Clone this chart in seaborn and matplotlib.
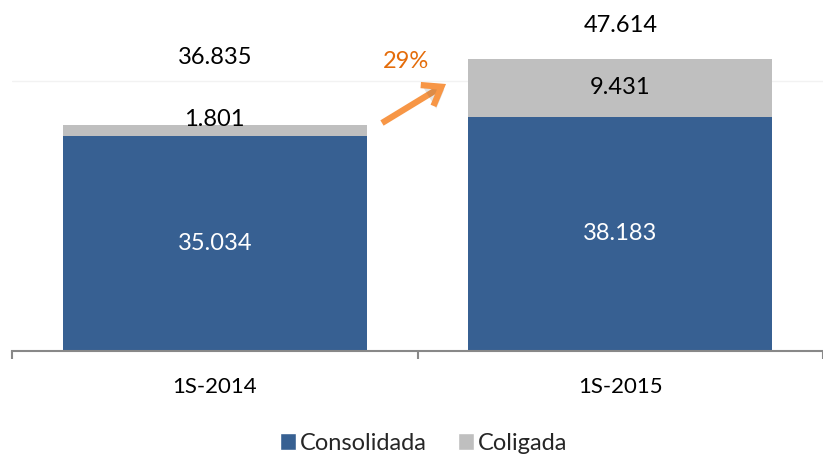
import matplotlib
matplotlib.use("Agg")
import matplotlib.pyplot as plt
import matplotlib.patheffects as pe
from matplotlib.patches import Patch
import seaborn as sns
import pandas as pd

# ---- data ----
categories = ["1S-2014", "1S-2015"]
consolidada = [35034, 38183]
coligada = [1801, 9431]
series_names = ["Consolidada", "Coligada"]
growth_label = "29%"

totals = [a + b for a, b in zip(consolidada, coligada)]

def fmt(v):
    return f"{v:,}".replace(",", ".")

BLUE = "#376092"
GRAY = "#BFBFBF"
ORANGE_TXT = "#E46C0A"
ORANGE_ARR = "#F79646"

sns.set_style("white")
plt.rcParams["font.family"] = ["Lato", "DejaVu Sans"]

W, H = 823, 454
fig = plt.figure(figsize=(W / 100, H / 100), dpi=100)
ax = fig.add_axes([12 / W, 1 - 350.7 / H, 1 - 12 / W, 350.7 / H])

df = pd.DataFrame({"cat": categories, "total": totals, "cons": consolidada, "col": coligada})

sns.barplot(data=df, x="cat", y="total", color=GRAY, width=0.75, saturation=1,
            ax=ax, zorder=2, linewidth=0, edgecolor="none")
sns.barplot(data=df, x="cat", y="cons", color=BLUE, width=0.75, saturation=1,
            ax=ax, zorder=3, linewidth=0, edgecolor="none")

ax.set_xlim(-0.5, 1.5)
ax.set_ylim(0, 57250)
ax.set_xlabel("")
ax.set_ylabel("")
ax.set_yticks([])

# faint top gridline
ax.axhline(44000, color="#F2F2F2", lw=1, zorder=1)

for s in ["top", "left", "right"]:
    ax.spines[s].set_visible(False)
ax.spines["bottom"].set_color("#888888")
ax.spines["bottom"].set_linewidth(1.5)
ax.spines["bottom"].set_zorder(5)

ax.set_xticks(range(len(categories)))
ax.set_xticklabels(categories, fontsize=16, color="#000000")
ax.tick_params(axis="x", which="major", length=0, pad=19)
ax.set_xticks([-0.5, 0.5, 1.5], minor=True)
ax.tick_params(axis="x", which="minor", bottom=True, length=6, width=1.5,
               color="#888888", direction="out")

# labels
total_offsets = [68, 34]  # px above bar top
for i, (c, g, t) in enumerate(zip(consolidada, coligada, totals)):
    ax.text(i, c / 2, fmt(c), ha="center", va="center", color="white", fontsize=17, zorder=6)
    ax.annotate(fmt(t), xy=(i, t), xytext=(0, total_offsets[i] * 0.72),
                textcoords="offset points", ha="center", va="center",
                fontsize=17, color="black", annotation_clip=False)
for i, (c, g) in enumerate(zip(consolidada, coligada)):
    if i == 0:
        ax.annotate(fmt(g), xy=(i, c + g), xytext=(0, 6 * 0.72), textcoords="offset points",
                    ha="center", va="center", fontsize=17, color="black", zorder=6)
    else:
        ax.text(i, c + g / 2, fmt(g), ha="center", va="center", fontsize=17,
                color="black", zorder=6)

# growth arrow + label
fig.text(406 / W, 1 - 61 / H, growth_label, ha="center", va="center", fontsize=17,
         color=ORANGE_TXT)
arr = ax.annotate("", xy=(446 / W, 1 - 84 / H), xytext=(382 / W, 1 - 123 / H),
                  xycoords="figure fraction", textcoords="figure fraction",
                  arrowprops=dict(arrowstyle="->,head_length=0.55,head_width=0.4",
                                  lw=4.5, color=ORANGE_ARR, mutation_scale=22,
                                  shrinkA=0, shrinkB=0, capstyle="butt",
                                  joinstyle="miter"),
                  annotation_clip=False)
arr.arrow_patch.set_path_effects([pe.SimplePatchShadow(offset=(2, -2), alpha=0.15), pe.Normal()])

# legend
handles = [Patch(facecolor=BLUE), Patch(facecolor=GRAY)]
fig.legend(handles, series_names, loc="center", bbox_to_anchor=(423.5 / W, 1 - 443 / H),
           ncol=2, frameon=False, fontsize=17, handlelength=0.7, handleheight=0.7,
           handletextpad=0.15, columnspacing=1.3, borderaxespad=0, borderpad=0)

fig.savefig("out.png", dpi=100)
